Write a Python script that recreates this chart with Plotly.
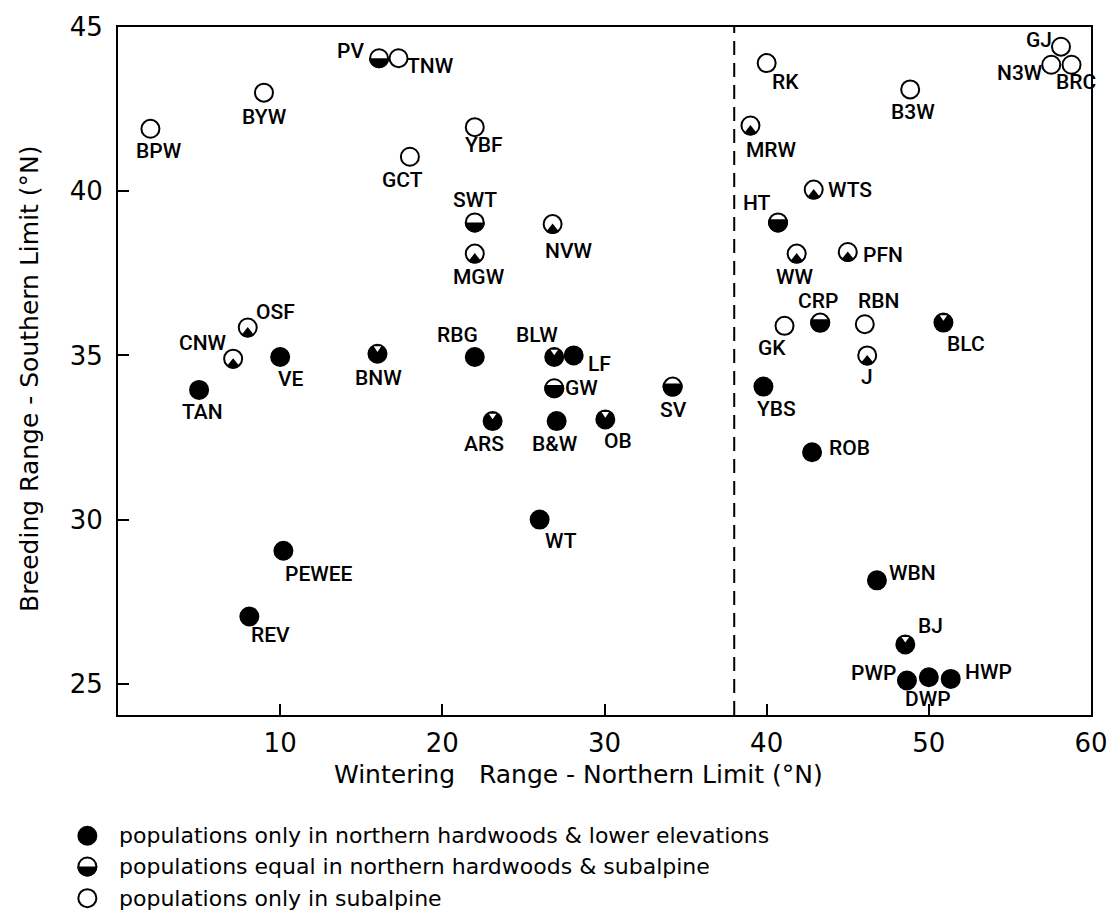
import numpy as np
import plotly.graph_objects as go

# ---------------- data ----------------
species = ["BPW", "BYW", "PV", "TNW", "GCT", "YBF", "SWT", "NVW", "MGW",
           "RK", "B3W", "MRW", "WTS", "HT", "WW", "PFN", "GJ", "N3W", "BRC",
           "OSF", "CNW", "VE", "TAN", "BNW", "RBG", "BLW", "LF", "GW", "SV",
           "ARS", "B&W", "OB", "GK", "CRP", "RBN", "BLC", "J", "YBS", "ROB",
           "PEWEE", "REV", "WT", "WBN", "BJ", "PWP", "DWP", "HWP"]
winter_north = [2.0, 9.0, 16.1, 17.3, 18.0, 22.0, 22.0, 26.8, 22.0,
                40.0, 48.85, 39.0, 42.9, 40.7, 41.85, 45.0, 58.15, 57.55, 58.8,
                8.0, 7.1, 10.0, 5.0, 16.0, 22.0, 26.9, 28.1, 26.9, 34.2,
                23.1, 27.05, 30.05, 41.1, 43.3, 46.05, 50.9, 46.2, 39.8, 42.8,
                10.2, 8.1, 26.0, 46.8, 48.55, 48.65, 50.0, 51.35]
breed_south = [41.9, 43.0, 44.05, 44.05, 41.05, 41.95, 39.05, 39.0, 38.1,
               43.9, 43.1, 42.0, 40.05, 39.05, 38.1, 38.15, 44.4, 43.85, 43.85,
               35.85, 34.9, 34.95, 33.95, 35.05, 34.95, 34.95, 35.0, 34.0, 34.05,
               33.0, 33.0, 33.05, 35.9, 36.0, 35.95, 36.0, 35.0, 34.05, 32.05,
               29.05, 27.05, 30.0, 28.15, 26.2, 25.1, 25.2, 25.15]
# N = only northern hardwoods, n = mostly northern hardwoods, H = more in
# northern hardwoods, h = equal, s = mostly subalpine, S = only subalpine
habitat = ["S", "S", "h", "S", "S", "S", "h", "s", "s",
           "S", "S", "s", "s", "H", "s", "s", "S", "S", "S",
           "s", "s", "N", "N", "n", "N", "n", "N", "H", "H",
           "n", "N", "n", "S", "H", "S", "n", "s", "N", "N",
           "N", "N", "N", "N", "n", "N", "N", "N"]
boundary_lat = 38
x_ticks = [10, 20, 30, 40, 50, 60]
y_ticks = [25, 30, 35, 40, 45]
legend_text = ["populations only in northern hardwoods & lower elevations",
               "populations equal in northern hardwoods & subalpine",
               "populations only in subalpine"]
legend_kind = ["N", "h", "S"]

# label offsets from marker centre (pixels, right / down)
label_shift = {
    "BPW": (9, 22), "BYW": (1, 24), "PV": (-29, -7), "TNW": (32, 8),
    "GCT": (-7, 23), "YBF": (9, 18), "SWT": (0, -22), "NVW": (16, 27),
    "MGW": (4, 23), "RK": (19, 19), "B3W": (3, 23), "MRW": (21, 24),
    "WTS": (36, 0), "HT": (-21, -19), "WW": (-2, 23), "PFN": (35, 3),
    "GJ": (-22, -7), "N3W": (-31, 8), "BRC": (4, 17), "OSF": (28, -15),
    "CNW": (-30, -16), "VE": (11, 22), "TAN": (3, 22), "BNW": (1, 24),
    "RBG": (-17, -22), "BLW": (-17, -22), "LF": (26, 9), "GW": (27, 0),
    "SV": (1, 23), "ARS": (-9, 23), "B&W": (-2, 23), "OB": (13, 22),
    "GK": (-13, 22), "CRP": (-2, -22), "RBN": (14, -23), "BLC": (23, 21),
    "J": (0, 22), "YBS": (13, 22), "ROB": (37, -4), "PEWEE": (36, 23),
    "REV": (21, 19), "WT": (21, 21), "WBN": (36, -7), "BJ": (25, -18),
    "PWP": (-33, -8), "DWP": (-1, 22), "HWP": (38, -7),
}

# ---------------- marker geometry helpers ----------------
R = 10.0


def arc_pts(t0, t1, n=28, r=R):
    t = np.linspace(t0, t1, n)
    return [(r * np.cos(a), r * np.sin(a)) for a in t]


def path_from(pts):
    return "M " + " L ".join(f"{px:.2f},{py:.2f}" for px, py in pts) + " Z"


def lower_segment(c):
    t1 = np.arcsin(c / R)
    return path_from(arc_pts(t1, -np.pi - t1))


def bottom_wedge():
    pts = [(0, 0.5)] + arc_pts(np.radians(-130), np.radians(-50), 12)
    return path_from(pts)


TOP_NOTCH = "M -3.8,7.4 L 3.8,7.4 L 0,1.8 Z"

overlay = {
    "n": (TOP_NOTCH, "white"),
    "H": (lower_segment(3.2), "black"),
    "h": (lower_segment(0.0), "black"),
    "s": (bottom_wedge(), "black"),
}
base_fill = {"N": "black", "n": "black", "H": "white", "h": "white",
             "s": "white", "S": "white"}

# ---------------- figure ----------------
fig = go.Figure()
fig.add_trace(go.Scatter(
    x=winter_north, y=breed_south, mode="markers",
    marker=dict(symbol="circle", size=18,
                color=[base_fill[h] for h in habitat],
                line=dict(color="black", width=2)),
    text=species, hoverinfo="text+x+y", showlegend=False,
    cliponaxis=False,
))

shapes = []
for xv, yv, h in zip(winter_north, breed_south, habitat):
    if h in overlay:
        p, col = overlay[h]
        shapes.append(dict(type="path", xref="x", yref="y",
                           xsizemode="pixel", ysizemode="pixel",
                           xanchor=xv, yanchor=yv, path=p,
                           fillcolor=col, line=dict(width=0), layer="above"))

# dashed boundary line
shapes.append(dict(type="line", xref="x", yref="paper", x0=boundary_lat,
                   x1=boundary_lat, y0=0, y1=1,
                   line=dict(color="black", width=2, dash="14px,8px")))

label_font = dict(family="Roboto, DejaVu Sans Condensed, sans-serif",
                  size=21, color="black", weight=500)
annotations = []
for name, xv, yv in zip(species, winter_north, breed_south):
    dx, dy = label_shift[name]
    annotations.append(dict(
        x=xv, y=yv, xref="x", yref="y", text=name, showarrow=False,
        xanchor="center", yanchor="middle", xshift=dx, yshift=-dy,
        font=label_font))

# axis titles
title_font = dict(family="DejaVu Sans", size=25, color="black")
annotations.append(dict(
    x=0.473, y=-0.0863, xref="paper", yref="paper", showarrow=False,
    text="Wintering&nbsp;&nbsp;&nbsp;Range - Northern Limit (°N)",
    xanchor="center", yanchor="middle", font=title_font))
annotations.append(dict(
    x=-0.091, y=0.489, xref="paper", yref="paper", showarrow=False,
    text="Breeding Range - Southern Limit (°N)", textangle=-90,
    xanchor="center", yanchor="middle", font=title_font))

# legend drawn below the plot
plot_l, plot_w, plot_b, plot_h = 118, 984, 715, 695
legend_y_px = [837, 868, 900]
for txt, kind, ly_px in zip(legend_text, legend_kind, legend_y_px):
    lx = (87 - plot_l) / plot_w
    ly = (plot_b - ly_px) / plot_h
    shapes.append(dict(type="circle", xref="paper", yref="paper",
                       xsizemode="pixel", ysizemode="pixel",
                       xanchor=lx, yanchor=ly, x0=-9, x1=9, y0=-9, y1=9,
                       fillcolor=base_fill[kind],
                       line=dict(color="black", width=2)))
    if kind in overlay:
        p, col = overlay[kind]
        shapes.append(dict(type="path", xref="paper", yref="paper",
                           xsizemode="pixel", ysizemode="pixel",
                           xanchor=lx, yanchor=ly, path=p,
                           fillcolor=col, line=dict(width=0)))
    annotations.append(dict(
        x=(117 - plot_l) / plot_w, y=ly, xref="paper", yref="paper",
        text=txt, showarrow=False, xanchor="left", yanchor="middle",
        font=dict(family="DejaVu Sans", size=22, color="black")))

axis_common = dict(showline=True, mirror=True, linecolor="black", linewidth=2,
                   ticks="inside", ticklen=11, tickwidth=2, tickcolor="black",
                   showgrid=False, zeroline=False,
                   tickfont=dict(family="DejaVu Sans", size=26, color="black"))

fig.update_layout(
    width=1120, height=916,
    margin=dict(l=plot_l, r=1120 - plot_l - plot_w, t=plot_b - plot_h,
                b=916 - plot_b),
    plot_bgcolor="white", paper_bgcolor="white",
    xaxis=dict(range=[0, 60], tickvals=x_ticks, ticklabelstandoff=4,
               **axis_common),
    yaxis=dict(range=[24.05, 45], tickvals=y_ticks, ticklabelstandoff=8,
               **axis_common),
    shapes=shapes, annotations=annotations,
)

fig.write_html("out.html")
